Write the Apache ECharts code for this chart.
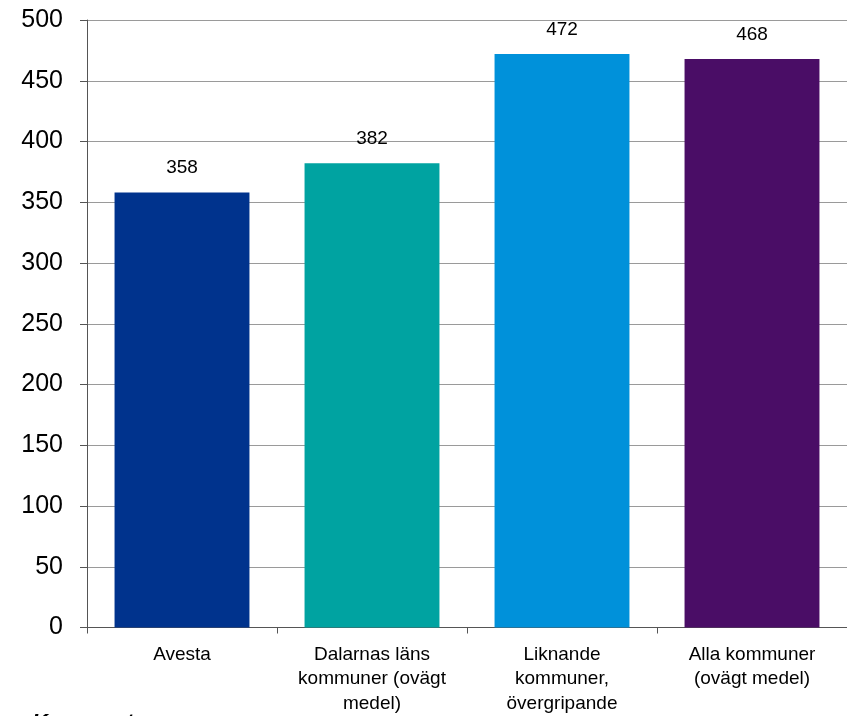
<!DOCTYPE html>
<html><head><meta charset="utf-8">
<script src="https://cdn.jsdelivr.net/npm/echarts@6/dist/echarts.min.js"></script>
<style>html,body{margin:0;padding:0;background:#fff;}#c{width:847px;height:716px;}</style>
</head><body><div id="c"></div>
<script>
const categories = ["Avesta", "Dalarnas läns\nkommuner (ovägt\nmedel)", "Liknande\nkommuner,\növergripande", "Alla kommuner\n(ovägt medel)"];
const values = [358, 382, 472, 468];
const colors = ["#00338D", "#00A3A1", "#0091DA", "#4A0D66"];
const yTicks = {min: 0, max: 500, interval: 50};

const chart = echarts.init(document.getElementById('c'), null, {renderer: 'canvas'});
chart.setOption({
  animation: false,
  backgroundColor: '#fff',
  grid: {left: 87, right: 0, top: 20, bottom: 86, containLabel: false},
  xAxis: {
    type: 'category',
    data: categories,
    axisLine: {lineStyle: {color: '#555', width: 1}},
    axisTick: {show: true, length: 6, lineStyle: {color: '#555'}},
    axisLabel: {color: '#000', fontFamily: 'Liberation Sans, Arial', fontSize: 19, lineHeight: 24.5, margin: 15, interval: 0}
  },
  yAxis: {
    type: 'value',
    min: yTicks.min, max: yTicks.max, interval: yTicks.interval,
    axisLine: {show: true, lineStyle: {color: '#555', width: 1}},
    axisTick: {show: true, length: 7, lineStyle: {color: '#555'}},
    splitLine: {lineStyle: {color: '#9a9a9a', width: 1}},
    axisLabel: {color: '#000', fontFamily: 'Liberation Sans, Arial', fontSize: 25, margin: 24}
  },
  series: [{
    type: 'bar',
    data: values.map((v, i) => ({value: v, itemStyle: {color: colors[i]}})),
    barCategoryGap: '29%',
    label: {show: true, position: 'top', distance: 15, color: '#000', fontFamily: 'Liberation Sans, Arial', fontSize: 19}
  }],
  graphic: [{
    type: 'text', left: 32, top: 712,
    style: {text: 'Kommentar', fill: '#000', font: 'italic bold 22px Liberation Sans, Arial'}
  }]
});
</script></body></html>
